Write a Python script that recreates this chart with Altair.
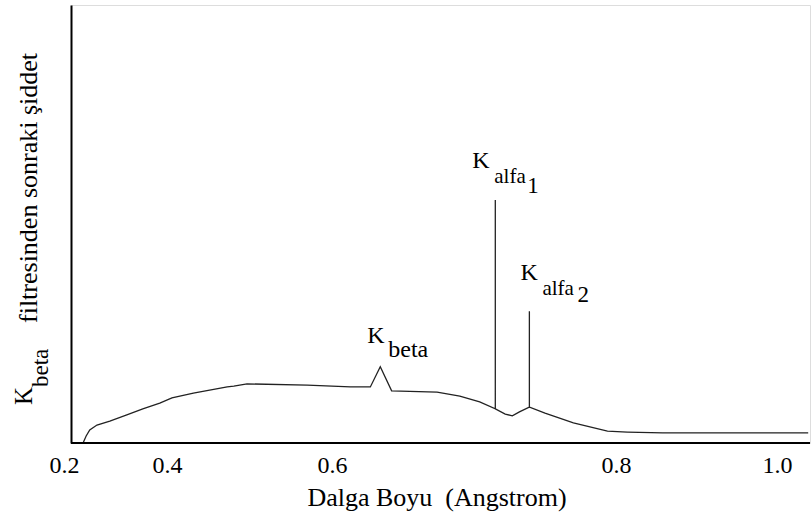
import altair as alt
import pandas as pd

# ---- data ----
wavelength = [0.237, 0.243, 0.250, 0.264, 0.289, 0.322, 0.353, 0.386, 0.406, 0.432,
              0.473, 0.481, 0.497, 0.570, 0.613, 0.627, 0.634, 0.642, 0.674, 0.690,
              0.704, 0.715, 0.715, 0.715, 0.722, 0.727, 0.732, 0.739, 0.739, 0.739,
              0.750, 0.770, 0.794, 0.814, 0.858, 1.039]
intensity = [0.0, 1.6, 3.0, 4.1, 5.0, 6.4, 7.8, 9.1, 10.3, 11.4,
             12.8, 13.0, 13.5, 13.2, 12.8, 12.8, 17.4, 11.9, 11.6, 10.7,
             9.4, 7.8, 55.5, 7.8, 6.6, 6.2, 7.1, 8.2, 30.1, 8.2,
             6.8, 4.6, 2.7, 2.5, 2.3, 2.3]
tick_values = [0.2, 0.4, 0.6, 0.8, 1.0]

peak_names = ["K_alfa_1", "K_alfa_2", "K_beta"]
peak_wavelength = [0.715, 0.739, 0.634]
peak_intensity = [55.5, 30.1, 17.4]
peak_main = ["K", "K", "K"]
peak_sub = ["alfa", "alfa", "beta"]
peak_subsub = ["1", "2", ""]

x_title = "Dalga Boyu\u00a0\u00a0(Angstrom)"
y_title_main = "K"
y_title_sub = "beta"
y_title_rest = "filtresinden sonraki şiddet"

FONT = "Times New Roman, Liberation Serif, DejaVu Serif, serif"
W, H = 739, 438

df = pd.DataFrame({"lam": wavelength, "I": intensity, "idx": list(range(len(wavelength)))})

xscale = alt.Scale(domain=[0.2, 0.4, 0.6, 0.8, 1.0, 1.04],
                   range=[-7, 96, 261, 545, 706, 738], nice=False, zero=False)
yscale = alt.Scale(domain=[0, 100], nice=False, zero=False)

base = alt.Chart(df)

curve = base.mark_line(color="#222222", strokeWidth=1.3).encode(
    x=alt.X("lam:Q", scale=xscale,
            axis=alt.Axis(values=tick_values, format=".1f", ticks=False, grid=False,
                          domain=False, labelFont=FONT, labelFontSize=24,
                          labelColor="black", labelPadding=10, labelFlush=False,
                          labelOverlap=False,
                          title=x_title, titleFont=FONT, titleFontSize=26,
                          titleFontWeight="normal", titleColor="black",
                          titlePadding=7)),
    y=alt.Y("I:Q", scale=yscale,
            axis=alt.Axis(labels=False, ticks=False, grid=False, title=None,
                          domain=True, domainColor="black", domainWidth=2)),
    order="idx:Q",
)

baseline = alt.Chart(alt.Data(values=[{}])).mark_rule(color="black", strokeWidth=2).encode(
    x=alt.value(0), x2=alt.value(W), y=alt.value(H)
)

layers = [curve, baseline]

# peak labels: K with subscript and sub-subscript
offsets = {
    "K_alfa_1": [(-23, -32, 24), (-1, -17, 21), (32, -7, 23)],
    "K_alfa_2": [(-9, -31, 24), (13, -16, 21), (48, -9, 23)],
    "K_beta": [(-13, -24, 24), (8, -10, 24), (0, 0, 20)],
}
for i, name in enumerate(peak_names):
    pieces = [peak_main[i], peak_sub[i], peak_subsub[i]]
    for (dx, dy, fs), txt in zip(offsets[name], pieces):
        if not txt:
            continue
        pdf = pd.DataFrame({"lam": [peak_wavelength[i]], "I": [peak_intensity[i]], "t": [txt]})
        layers.append(
            alt.Chart(pdf).mark_text(font=FONT, fontSize=fs, color="black", align="left",
                                     baseline="alphabetic", dx=dx, dy=dy).encode(
                x=alt.X("lam:Q", scale=xscale), y=alt.Y("I:Q", scale=yscale), text="t:N")
        )

# rotated y title built from pieces (subscript)
for txt, px, py, fs in [(y_title_main, -39, 400, 25), (y_title_sub, -23, 382, 23),
                        (y_title_rest, -34, 318, 26)]:
    layers.append(
        alt.Chart(alt.Data(values=[{"t": txt}])).mark_text(
            font=FONT, fontSize=fs, color="black", align="left", baseline="alphabetic",
            angle=270).encode(x=alt.value(px), y=alt.value(py), text="t:N")
    )

chart = alt.layer(*layers).properties(
    width=W, height=H,
    autosize=alt.AutoSizeParams(type="none"),
    padding={"left": 71, "top": 5, "right": 2, "bottom": 75},
).configure_view(stroke=None).configure(background="white")

chart.save("out.html", embed_options={"renderer": "svg", "actions": False})
